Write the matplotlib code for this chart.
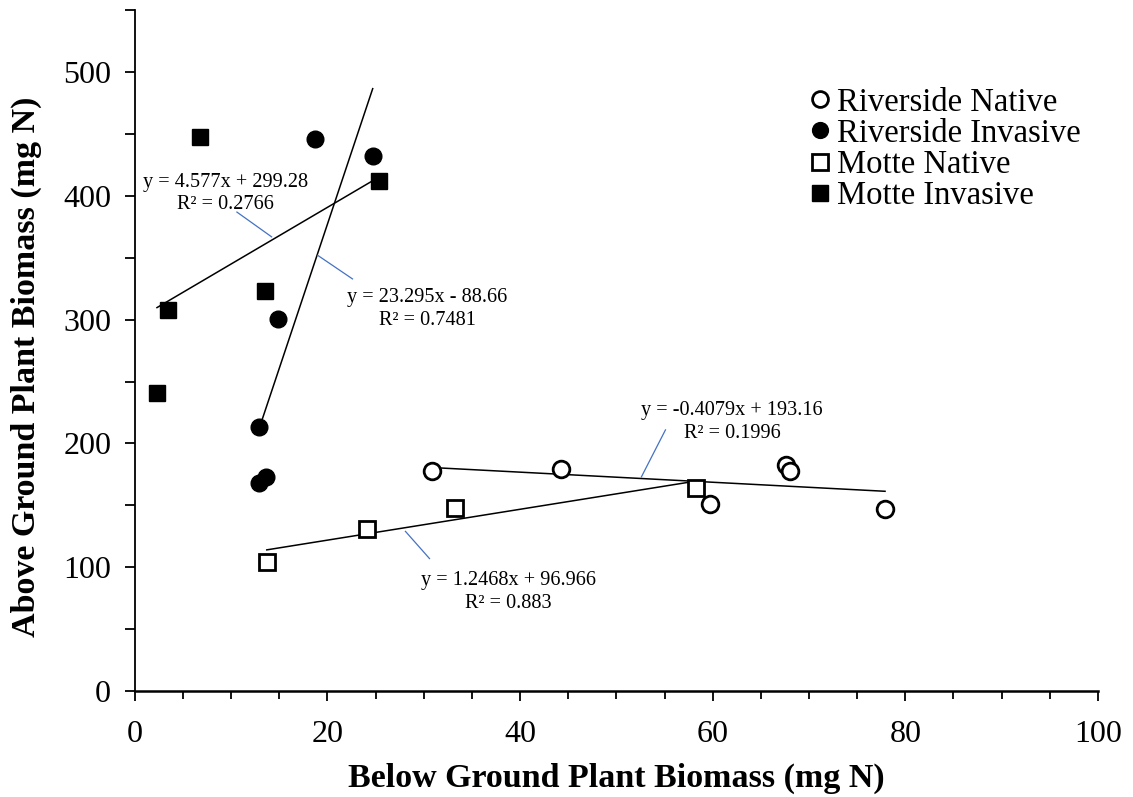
import matplotlib
matplotlib.use("Agg")
import matplotlib.pyplot as plt
from matplotlib.ticker import MultipleLocator

plt.rcParams["font.family"] = ["Liberation Serif", "DejaVu Serif"]

# Riverside Native (open circles)
rn_x = [30.9, 44.3, 59.7, 67.6, 68.0, 77.9]
rn_y = [178, 179, 151, 183, 178, 147]
# Riverside Invasive (filled circles)
ri_x = [18.7, 24.7, 14.9, 12.9, 13.6, 12.9]
ri_y = [446, 432, 301, 213, 173, 168]
# Motte Native (open squares)
mn_x = [13.7, 24.1, 33.2, 58.3]
mn_y = [104, 131, 148, 164]
# Motte Invasive (filled squares)
mi_x = [2.3, 3.4, 6.8, 13.5, 25.4]
mi_y = [241, 308, 448, 323, 412]

# linear trendline coefficients (slope, intercept, r2) as printed on the chart
rn_fit = (-0.4079, 193.16, "0.1996")
ri_fit = (23.295, -88.66, "0.7481")
mn_fit = (1.2468, 96.966, "0.883")
mi_fit = (4.577, 299.28, "0.2766")

LEADER = "#4472C4"


def eq_label(fit):
    m, b, r2 = fit
    sign = "+" if b >= 0 else "-"
    return f"y = {m:g}x {sign} {abs(b):g}\nR² = {r2}"


def draw_trend(ax, xs, fit):
    m, b, _ = fit
    x0, x1 = min(xs), max(xs)
    ax.plot([x0, x1], [m * x0 + b, m * x1 + b], color="black", lw=1.1, zorder=2)


fig = plt.figure(figsize=(11.33, 7.97), dpi=100)
ax = fig.add_axes([0.119, 0.133, 0.850, 0.854])

ms = 12
ax.plot(rn_x, rn_y, "o", ms=ms, mfc="white", mec="black", mew=2, label="Riverside Native", zorder=3)
ax.plot(ri_x, ri_y, "o", ms=ms, mfc="black", mec="black", mew=1, label="Riverside Invasive", zorder=3)
ax.plot(mn_x, mn_y, "s", ms=ms, mfc="white", mec="black", mew=2, label="Motte Native", zorder=3)
ax.plot(mi_x, mi_y, "s", ms=ms, mfc="black", mec="black", mew=1, label="Motte Invasive", zorder=3)

draw_trend(ax, rn_x, rn_fit)
draw_trend(ax, ri_x, ri_fit)
draw_trend(ax, mn_x, mn_fit)
draw_trend(ax, mi_x, mi_fit)

# equation labels with leader lines: (fit, text pos, leader start, leader end)
labels = [
    (mi_fit, (9.45, 402), (10.6, 387), (14.2, 367)),
    (ri_fit, (30.4, 309), (19.0, 352), (22.6, 333)),
    (rn_fit, (62.0, 217), (55.1, 211), (52.6, 173)),
    (mn_fit, (38.8, 80), (28.1, 129), (30.6, 107)),
]
for fit, tpos, p0, p1 in labels:
    ax.text(tpos[0], tpos[1], eq_label(fit), ha="center", va="center",
            multialignment="center", fontsize=14.6, linespacing=1.28)
    ax.plot([p0[0], p1[0]], [p0[1], p1[1]], color=LEADER, lw=0.9)

ax.set_xlim(0, 100)
ax.set_ylim(0, 550)
ax.xaxis.set_major_locator(MultipleLocator(20))
ax.xaxis.set_minor_locator(MultipleLocator(5))
ax.yaxis.set_major_locator(MultipleLocator(100))
ax.yaxis.set_minor_locator(MultipleLocator(50))

ax.spines["top"].set_visible(False)
ax.spines["right"].set_visible(False)
ax.spines["left"].set_linewidth(1.3)
ax.spines["bottom"].set_linewidth(1.8)

ax.tick_params(which="major", direction="out", length=7, width=1.3, labelsize=23)
ax.tick_params(which="minor", direction="out", length=6, width=1.3)
ax.tick_params(axis="y", which="both", length=7, pad=10)
ax.tick_params(axis="x", which="major", pad=14)

ax.set_xlabel("Below Ground Plant Biomass (mg N)", fontsize=24.5, fontweight="bold", labelpad=10)
ax.set_ylabel("Above Ground Plant Biomass (mg N)", fontsize=24.5, fontweight="bold", labelpad=15.5)
ax.yaxis.label.set_y(0.477)

ax.legend(loc="upper left", bbox_to_anchor=(0.701, 0.911), bbox_transform=fig.transFigure,
          frameon=False, fontsize=23.5, markerscale=0.95, handlelength=0.6,
          handletextpad=0.2, labelspacing=0.02, borderpad=0)

fig.savefig("out.png", dpi=100)
